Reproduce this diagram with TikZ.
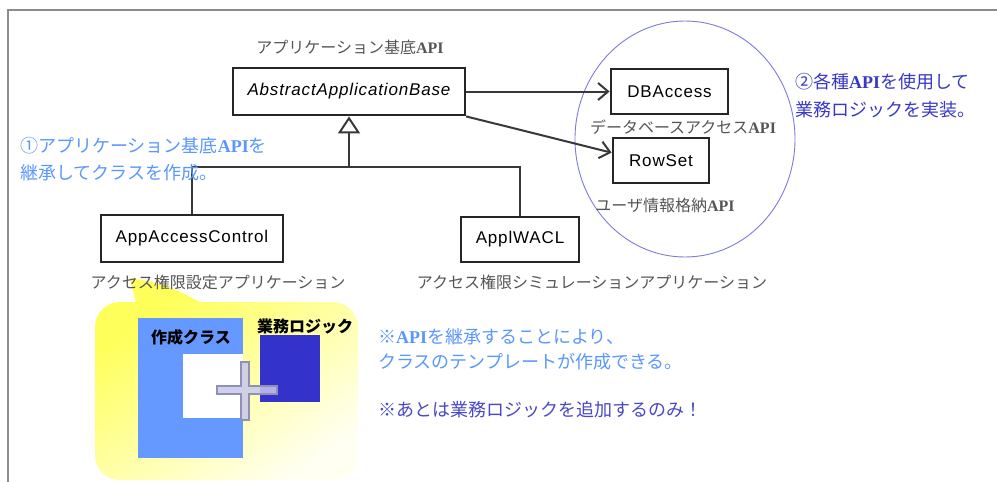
\documentclass[tikz,border=0pt]{standalone}
\usepackage{fontspec}
\usetikzlibrary{arrows.meta}
\newfontfamily\jpf{Noto Sans CJK JP}
\newfontfamily\boxf[LetterSpace=5]{Liberation Sans}
\newfontfamily\apif{Liberation Serif}
\newcommand\apiword{{\apif\bfseries API}}

\definecolor{labelgray}{HTML}{555555}
\definecolor{lightblue}{HTML}{5A96FF}
\definecolor{deepblue}{HTML}{3838C8}
\definecolor{noteblue}{HTML}{4848C8}
\definecolor{ringblue}{HTML}{7A7AE0}
\definecolor{classblue}{HTML}{6699FF}
\definecolor{logicblue}{HTML}{3333CC}
\definecolor{calloutA}{HTML}{FFFF5C}
\definecolor{calloutB}{HTML}{FFFFF2}
\definecolor{plusfill}{HTML}{C8C8EC}
\definecolor{plusline}{HTML}{9090B4}

\tikzset{
  umlbox/.style={draw=black!85, line width=2.8pt, fill=white,
    font=\boxf\fontsize{17}{20}\selectfont, inner sep=0pt},
  apilabel/.style={font=\jpf\fontsize{16}{19}\selectfont, text=labelgray, inner sep=0pt},
  note/.style={font=\jpf\fontsize{18}{27}\selectfont, align=left, anchor=west, inner sep=0pt},
  link/.style={draw=black!78, line width=2pt},
  uses/.style={link, -{Straight Barb[length=10pt,width=17pt]}},
  inherit/.style={link, -{Triangle[open,length=17pt,width=22pt]}},
  frameline/.style={draw=black!45, line width=1.5pt}
}

\begin{document}
\begin{tikzpicture}[x=1pt,y=-1pt]
\useasboundingbox (0,0) rectangle (997,482);

% outer frame
\draw[frameline] (8,482) -- (8,10) -- (997,10);

% speech-bubble background for the example
\fill[calloutA] (136,303) -- (130,278) .. controls (165,284) .. (202,303) -- cycle;
\path[rounded corners=25pt, top color=calloutA, bottom color=calloutB, shading angle=35]
  (95,302) rectangle (358,480);

% API group ring
\draw[ringblue, line width=0.9pt] (685,139) ellipse [x radius=110pt, y radius=118pt];

% class boxes
\node[umlbox, minimum width=232pt, minimum height=47pt] (aab) at (349,91.5) {\itshape AbstractApplicationBase};
\node[umlbox, minimum width=117pt, minimum height=45pt] (db) at (669.5,91.5) {DBAccess};
\node[umlbox, minimum width=96pt, minimum height=45pt] (rs) at (661,160.5) {RowSet};
\node[umlbox, minimum width=182pt, minimum height=47pt] (acc) at (192,238.5) {AppAccessControl};
\node[umlbox, minimum width=118pt, minimum height=45pt] (wacl) at (520,239.5) {ApplWACL};

% labels
\node[apilabel] (laab) at (350,47) {アプリケーション基底\apiword};
\node[apilabel] (ldb) at (683,127) {データベースアクセス\apiword};
\node[apilabel] (lrs) at (665,205) {ユーザ情報格納\apiword};
\node[apilabel] (lacc) at (218,282) {アクセス権限設定アプリケーション};
\node[apilabel] (lwacl) at (592,282) {アクセス権限シミュレーションアプリケーション};

% inheritance
\coordinate (j) at (349,167);
\draw[inherit] (acc.north) |- (j) -- (aab.south);
\draw[link] (wacl.north) |- (j);

% usage
\draw[uses] (aab.east) -- (db.west);
\draw[uses] (aab.-12.5) -- (rs.171);

% notes
\node[note, text=lightblue] (n1) at (20,159.5) {①アプリケーション基底\apiword を\\継承してクラスを作成。};
\node[note, text=deepblue, font=\jpf\fontsize{18}{28}\selectfont] (n2) at (795,96) {②各種\apiword を使用して\\業務ロジックを実装。};
\node[note, text=lightblue, font=\jpf\fontsize{18}{25}\selectfont] (n3) at (378,349.5) {※\apiword を継承することにより、\\クラスのテンプレートが作成できる。};
\node[note, text=noteblue] (n4) at (378,410) {※あとは業務ロジックを追加するのみ！};

% created class and business logic
\fill[classblue] (138,318) rectangle (243,458);
\fill[white] (183,354) rectangle (243,418);
\fill[logicblue] (260,335) rectangle (320,402);
\node[font=\jpf\bfseries\fontsize{16}{19}\selectfont, inner sep=0pt] (tcls) at (191,337) {作成クラス};
\node[font=\jpf\bfseries\fontsize{16}{19}\selectfont, inner sep=0pt] (tlogic) at (305,326) {業務ロジック};

% plus sign
\filldraw[fill=plusfill, fill opacity=0.85, draw=plusline, line width=1.2pt]
  (241,362) -- (249,362) -- (249,386) -- (277,386) -- (277,394) -- (249,394) --
  (249,420) -- (241,420) -- (241,394) -- (217,394) -- (217,386) -- (241,386) -- cycle;
\end{tikzpicture}
\end{document}
